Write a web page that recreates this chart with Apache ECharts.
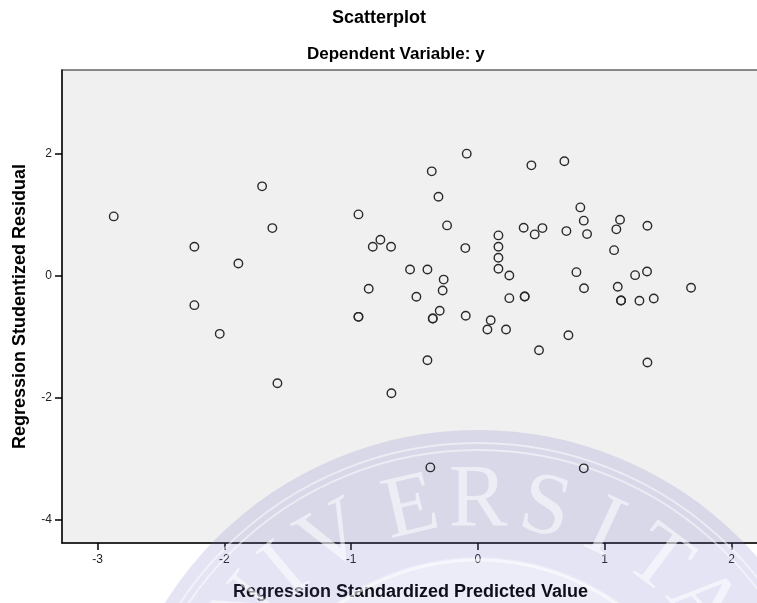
<!DOCTYPE html>
<html>
<head>
<meta charset="utf-8">
<script src="https://cdn.jsdelivr.net/npm/echarts@6/dist/echarts.min.js"></script>
<style>
  html, body { margin: 0; padding: 0; background: #ffffff; }
  #chart { width: 757px; height: 603px; }
</style>
</head>
<body>
<div id="chart"></div>
<script>
// Regression Standardized Predicted Value (x)
const predicted = [
  -2.872, -1.702, -1.621, -2.236, -1.889, -2.236, -2.036, -1.581,
  -0.088, -0.364, -0.311, -0.942, -0.243, -0.769, -0.829, -0.685,
  -0.099, 0.162, 0.162, 0.162, 0.162, 0.248, -0.535, -0.398,
  -0.270, -0.278, -0.861, -0.485, -0.942, -0.942, -0.301, -0.356,
  -0.356, -0.096, 0.101, 0.075, 0.222, 0.248, -0.398, -0.682,
  0.422, 0.682, 0.808, 0.835, 1.121, 0.361, 0.448, 0.509,
  0.698, 0.861, 1.092, 1.337, 1.074, 0.777, 1.240, 1.334,
  0.837, 1.103, 1.681, 0.369, 0.369, 1.129, 1.129, 1.274,
  1.387, 0.714, 0.482, 1.337, -0.375, 0.835
];
// Regression Studentized Residual (y)
const residual = [
  0.975, 1.469, 0.783, 0.477, 0.202, -0.483, -0.954, -1.766,
  2.006, 1.715, 1.299, 1.008, 0.827, 0.592, 0.477, 0.477,
  0.454, 0.663, 0.477, 0.296, 0.115, 0.005, 0.104, 0.104,
  -0.063, -0.242, -0.214, -0.345, -0.675, -0.675, -0.576, -0.702,
  -0.702, -0.658, -0.730, -0.883, -0.883, -0.368, -1.388, -1.931,
  1.814, 1.880, 1.123, 0.905, 0.921, 0.789, 0.679, 0.783,
  0.734, 0.684, 0.762, 0.822, 0.421, 0.059, 0.010, 0.071,
  -0.204, -0.181, -0.198, -0.340, -0.340, -0.406, -0.406, -0.411,
  -0.373, -0.977, -1.223, -1.426, -3.148, -3.164
];
const xTicks = [-3, -2, -1, 0, 1, 2];
const yTicks = [-4, -2, 0, 2];

const points = predicted.map((x, i) => [x, residual[i]]);

// Decorative watermark (university seal) behind the points
const wmLetters = ['U', 'N', 'I', 'V', 'E', 'R', 'S', 'I', 'T', 'A', 'S'];
const wmAngles = [-63, -51, -40, -29, -13, 0, 13, 25, 37, 49, 61];
function watermark() {
  const cx = 478, cy = 800;
  const els = [
    { type: 'ring', z: 1, silent: true, shape: { cx: cx, cy: cy, r: 370, r0: 243 },
      style: { fill: 'rgba(110,110,200,0.19)' } },
    { type: 'circle', z: 1, silent: true, shape: { cx: cx, cy: cy, r: 243 },
      style: { fill: 'rgba(110,110,200,0.13)' } },
    { type: 'circle', z: 1, silent: true, shape: { cx: cx, cy: cy, r: 357 },
      style: { fill: 'none', stroke: 'rgba(255,255,255,0.5)', lineWidth: 2 } },
    { type: 'circle', z: 1, silent: true, shape: { cx: cx, cy: cy, r: 350 },
      style: { fill: 'none', stroke: 'rgba(255,255,255,0.5)', lineWidth: 2 } },
    { type: 'circle', z: 1, silent: true, shape: { cx: cx, cy: cy, r: 240 },
      style: { fill: 'none', stroke: 'rgba(255,255,255,0.55)', lineWidth: 3 } }
  ];
  wmLetters.forEach((ch, i) => {
    const a = wmAngles[i] * Math.PI / 180;
    els.push({
      type: 'text', z: 1, silent: true,
      x: cx + 298 * Math.sin(a), y: cy - 298 * Math.cos(a),
      rotation: -a,
      style: {
        text: ch, fill: 'rgba(255,255,255,0.55)',
        font: '88px "Liberation Serif", "DejaVu Serif", serif',
        align: 'center', verticalAlign: 'middle'
      }
    });
  });
  return els;
}

const chart = echarts.init(document.getElementById('chart'), null, { renderer: 'canvas' });
const fontFam = '"Liberation Sans", Arial, sans-serif';
chart.setOption({
  animation: false,
  backgroundColor: '#ffffff',
  title: [
    { text: 'Scatterplot', left: 332, top: 9, padding: 0,
      textStyle: { fontFamily: fontFam, fontWeight: 'bold', fontSize: 18, color: '#000' } },
    { text: 'Dependent Variable: y', left: 307, top: 46, padding: 0,
      textStyle: { fontFamily: fontFam, fontWeight: 'bold', fontSize: 17, color: '#000' } }
  ],
  grid: {
    left: 62, right: -2, top: 70, bottom: 60,
    containLabel: false, outerBoundsMode: 'none',
    show: true, backgroundColor: '#f0f0f0', borderColor: '#666', borderWidth: 1.5
  },
  xAxis: {
    type: 'value', min: -3.28, max: 2.217,
    name: 'Regression Standardized Predicted Value',
    nameLocation: 'middle', nameGap: 40, nameMoveOverlap: false,
    nameTextStyle: { fontFamily: fontFam, fontWeight: 'bold', fontSize: 18, color: '#000' },
    axisLine: { show: true, onZero: false, lineStyle: { color: '#111', width: 1.5 } },
    axisTick: { show: true, length: 7, customValues: xTicks, lineStyle: { color: '#000', width: 1.5 } },
    axisLabel: { customValues: xTicks, margin: 11, fontFamily: fontFam, fontSize: 12, color: '#222' },
    splitLine: { show: false }
  },
  yAxis: {
    type: 'value', min: -4.39, max: 3.38,
    name: 'Regression Studentized Residual',
    nameLocation: 'middle', nameGap: 33, nameRotate: 90, nameMoveOverlap: false,
    nameTextStyle: { fontFamily: fontFam, fontWeight: 'bold', fontSize: 18, color: '#000' },
    axisLine: { show: true, onZero: false, lineStyle: { color: '#111', width: 1.5 } },
    axisTick: { show: true, length: 7, customValues: yTicks, lineStyle: { color: '#000', width: 1.5 } },
    axisLabel: { customValues: yTicks, margin: 10, fontFamily: fontFam, fontSize: 12, color: '#222' },
    splitLine: { show: false }
  },
  graphic: { elements: watermark() },
  series: [{
    type: 'scatter',
    data: points,
    symbol: 'circle',
    symbolSize: 8.5,
    z: 5,
    itemStyle: { color: 'rgba(0,0,0,0)', borderColor: '#2a2a2a', borderWidth: 1.4, opacity: 1 }
  }]
});
</script>
</body>
</html>
